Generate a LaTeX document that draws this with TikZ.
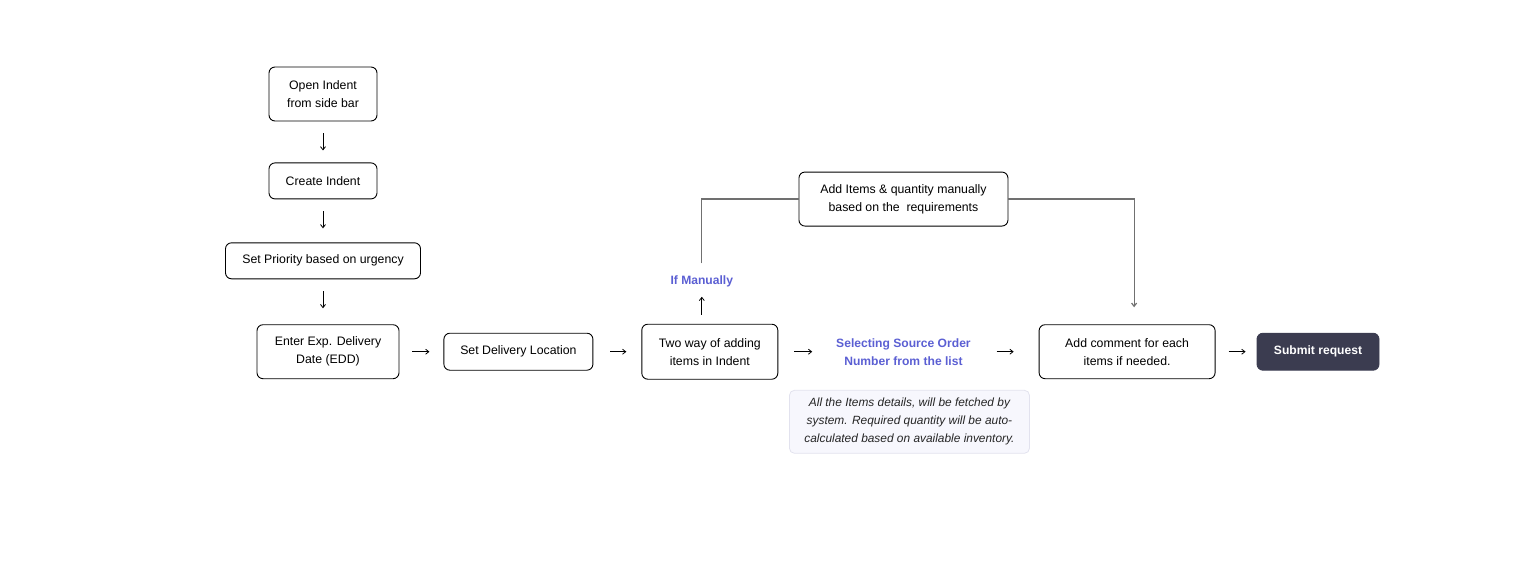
\documentclass[tikz,border=0pt]{standalone}
\usepackage{fontspec}
\setmainfont{Liberation Sans}
\usetikzlibrary{arrows.meta,positioning}

\definecolor{inkblue}{HTML}{5B5FD3}
\definecolor{darkbtn}{HTML}{3B3C50}
\definecolor{wireg}{HTML}{707070}
\definecolor{notefill}{HTML}{F7F7FD}
\definecolor{noteline}{HTML}{E2E2EE}

\begin{document}
\begin{tikzpicture}[x=1pt,y=1pt,>={Straight Barb[length=3.2pt,width=5pt]},
    font=\fontsize{12.3}{18}\selectfont,
    box/.style={draw,rounded corners=6pt,line width=0.9pt,align=center,minimum height=36pt,inner sep=2pt},
    tallbox/.style={box,minimum height=54pt},
    hint/.style={text=inkblue,font=\fontsize{12.1}{18}\selectfont\bfseries,align=center},
    flow/.style={->,line width=0.8pt},
    wire/.style={draw=wireg,line width=1.2pt}]

  \useasboundingbox (0,0) rectangle (1526,-566);

  % left column
  \node[tallbox,minimum width=108pt] (open) at (323,-94) {Open Indent\\from side bar};
  \node[box,minimum width=108pt] (create) [below=41pt of open] {Create Indent};
  \node[box,minimum width=195pt] (priority) [below=43pt of create] {Set Priority based on urgency};
  \node[tallbox,minimum width=142pt] (edd) [below=45pt of priority,xshift=5pt] {Enter Exp. Delivery\\Date (EDD)};

  % main row
  \node[box,minimum width=149pt,minimum height=37pt] (location) [right=44pt of edd] {Set Delivery Location};
  \node[tallbox,minimum width=136pt,minimum height=55pt] (twoway) [right=48pt of location] {Two way of adding\\items in Indent};
  \node[hint,minimum width=150pt,minimum height=36pt,inner sep=0pt] (source) [right=50pt of twoway] {Selecting Source Order\\Number from the list};
  \node[tallbox,minimum width=176pt] (comment) [right=60pt of source] {Add comment for each\\items if needed.};
  \node[box,fill=darkbtn,draw=darkbtn,text=white,font=\fontsize{12.1}{18}\selectfont\bfseries,
        minimum width=122pt,minimum height=37pt] (submit) [right=41pt of comment] {Submit request};

  % manual branch
  \node[hint,inner sep=0pt,text height=9pt,text depth=3pt] (ifman) [above=36pt of twoway,xshift=-8pt] {If Manually};
  \node[tallbox,minimum width=209pt] (manual) [above=107pt of source] {Add Items \& quantity manually\\based on the\ \ requirements};

  % note under source order
  \node[draw=noteline,fill=notefill,rounded corners=5pt,line width=0.8pt,align=center,
        minimum width=240pt,minimum height=63pt,inner sep=2pt,
        font=\fontsize{11.9}{18}\selectfont\itshape,text=black!85] (note) [below=20pt of source,xshift=6pt]
        {All the Items details, will be fetched by\\system. Required quantity will be auto-\\calculated based on available inventory.};

  \draw[flow,shorten <=12pt,shorten >=12pt] (open) -- (create);
  \draw[flow,shorten <=12pt,shorten >=14pt] (create) -- (priority);
  \draw[flow,shorten <=12pt,shorten >=16pt] (priority) -- (priority.south |- edd.north);
  \draw[flow,shorten <=13pt,shorten >=14pt] (edd) -- (location);
  \draw[flow,shorten <=17pt,shorten >=15pt] (location) -- (twoway);
  \draw[flow,shorten <=16pt,shorten >=16pt] (twoway) -- (source);
  \draw[flow,shorten <=18pt,shorten >=25pt] (source) -- (comment);
  \draw[flow,shorten <=13pt,shorten >=11pt] (comment) -- (submit);
  \draw[flow,shorten <=9pt,shorten >=9pt] (twoway.north -| ifman.south) -- (ifman.south);

  \draw[wire,shorten <=12pt] (ifman.north) |- (manual.west);
  \draw[wire,->,shorten >=17pt] (manual.east) -| ([xshift=7pt]comment.north);

\end{tikzpicture}
\end{document}
